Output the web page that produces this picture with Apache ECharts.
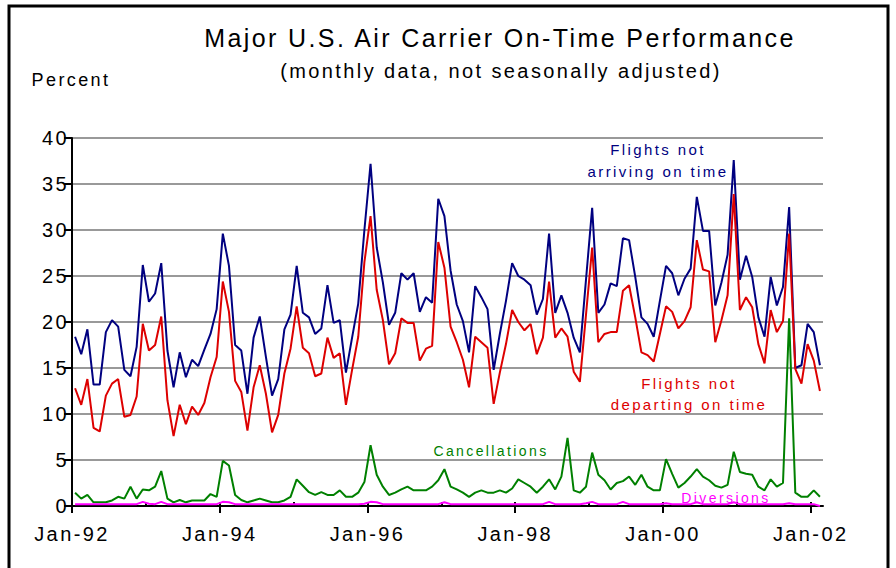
<!DOCTYPE html>
<html>
<head>
<meta charset="utf-8">
<script src="https://cdn.jsdelivr.net/npm/echarts@6/dist/echarts.min.js"></script>
<style>
  html, body { margin: 0; padding: 0; background: #fff; }
  #chart { width: 896px; height: 568px; }
  #chart text { letter-spacing: 2.4px; }
</style>
</head>
<body>
<div id="chart"></div>
<script>
// monthly values, Jan-92 through Feb-02 (122 months)
const lateArrivals = [
  18.4, 16.5, 19.2, 13.2, 13.2, 18.9, 20.2, 19.5, 14.8, 14.1, 17.3, 26.2,
  22.2, 23.1, 26.4, 16.9, 12.9, 16.7, 14.0, 15.9, 15.2, 17.0, 18.7, 21.4,
  29.6, 26.1, 17.5, 16.9, 12.2, 18.3, 20.6, 16.2, 12.0, 13.8, 19.2, 20.8,
  26.1, 21.0, 20.5, 18.7, 19.3, 24.0, 19.9, 20.2, 14.5, 18.3, 22.0, 30.0,
  37.2, 28.1, 24.3, 19.7, 21.0, 25.3, 24.6, 25.3, 21.1, 22.7, 22.1, 33.4,
  31.5, 25.6, 21.9, 20.1, 16.7, 23.9, 22.7, 21.4, 14.8, 18.7, 22.3, 26.4,
  25.0, 24.6, 24.0, 20.8, 22.5, 29.6, 21.0, 22.9, 21.0, 18.3, 16.7, 24.6,
  32.4, 21.0, 21.9, 24.2, 23.9, 29.1, 28.9, 24.9, 20.5, 19.8, 18.4, 22.3,
  26.1, 25.3, 22.9, 24.7, 25.8, 33.6, 29.9, 29.9, 21.8, 24.3, 27.3, 37.6,
  24.6, 27.2, 24.9, 20.5, 18.4, 24.9, 21.8, 23.8, 32.5, 15.0, 15.3, 19.8,
  18.9, 15.3
]
const lateDepartures = [
  12.8, 11.0, 13.8, 8.5, 8.1, 12.0, 13.3, 13.8, 9.7, 9.9, 11.9, 19.8,
  16.9, 17.5, 20.6, 11.5, 7.6, 11.0, 8.9, 10.8, 9.9, 11.2, 14.0, 16.2,
  24.4, 21.1, 13.6, 12.4, 8.2, 12.9, 15.3, 12.2, 8.0, 9.9, 14.4, 17.1,
  21.7, 17.2, 16.6, 14.1, 14.4, 18.3, 16.1, 16.6, 11.0, 14.8, 18.4, 26.5,
  31.5, 23.5, 20.2, 15.4, 16.6, 20.4, 19.9, 19.9, 15.8, 17.1, 17.4, 28.7,
  25.9, 19.5, 17.8, 15.9, 12.9, 18.4, 17.8, 17.2, 11.1, 14.5, 17.6, 21.3,
  20.0, 19.1, 19.8, 16.5, 18.3, 24.4, 18.3, 19.3, 18.4, 14.6, 13.5, 20.8,
  28.1, 17.8, 18.7, 18.9, 18.9, 23.4, 24.0, 20.5, 16.7, 16.4, 15.7, 18.7,
  21.7, 21.1, 19.3, 20.1, 21.6, 28.9, 25.7, 25.5, 17.8, 20.2, 22.9, 33.9,
  21.3, 22.7, 21.6, 17.6, 15.5, 21.3, 18.9, 20.1, 29.6, 14.9, 13.3, 17.6,
  15.8, 12.5
]
const cancellations = [
  1.45, 0.8, 1.2, 0.4, 0.4, 0.4, 0.6, 1.0, 0.8, 2.1, 0.8, 1.8,
  1.7, 2.1, 3.8, 0.8, 0.4, 0.65, 0.4, 0.6, 0.6, 0.6, 1.3, 1.0,
  4.9, 4.4, 1.2, 0.65, 0.4, 0.6, 0.8, 0.6, 0.4, 0.4, 0.6, 1.0,
  2.9, 2.2, 1.5, 1.2, 1.5, 1.2, 1.2, 1.7, 1.0, 1.0, 1.45, 2.6,
  6.6, 3.4, 2.1, 1.2, 1.45, 1.8, 2.1, 1.7, 1.7, 1.7, 2.1, 2.8,
  4.0, 2.1, 1.8, 1.45, 1.0, 1.45, 1.7, 1.45, 1.45, 1.7, 1.45, 1.9,
  2.9, 2.5, 2.1, 1.45, 2.1, 2.9, 1.8, 3.2, 7.4, 1.7, 1.45, 2.1,
  5.8, 3.4, 2.8, 1.8, 2.5, 2.7, 3.2, 2.3, 3.4, 2.1, 1.7, 1.7,
  5.1, 3.5, 2.0, 2.5, 3.2, 4.0, 3.2, 2.8, 2.2, 2.0, 2.3, 5.9,
  3.7, 3.5, 3.4, 2.1, 1.7, 2.9, 2.1, 2.5, 20.4, 1.45, 1.0, 1.0,
  1.7, 1.0
]
const diversions = [
  0.2, 0.2, 0.2, 0.2, 0.2, 0.2, 0.2, 0.2, 0.2, 0.2, 0.2, 0.45,
  0.25, 0.2, 0.45, 0.2, 0.2, 0.2, 0.2, 0.2, 0.2, 0.2, 0.2, 0.2,
  0.45, 0.4, 0.2, 0.2, 0.2, 0.2, 0.2, 0.2, 0.2, 0.2, 0.2, 0.2,
  0.2, 0.2, 0.2, 0.2, 0.2, 0.2, 0.2, 0.2, 0.2, 0.2, 0.2, 0.25,
  0.45, 0.4, 0.2, 0.2, 0.2, 0.2, 0.2, 0.2, 0.2, 0.2, 0.2, 0.2,
  0.4, 0.2, 0.2, 0.2, 0.2, 0.2, 0.2, 0.2, 0.2, 0.2, 0.2, 0.2,
  0.2, 0.2, 0.2, 0.2, 0.2, 0.45, 0.2, 0.2, 0.2, 0.2, 0.2, 0.3,
  0.45, 0.2, 0.2, 0.2, 0.2, 0.45, 0.2, 0.2, 0.2, 0.2, 0.2, 0.2,
  0.3, 0.2, 0.2, 0.2, 0.2, 0.4, 0.2, 0.2, 0.2, 0.2, 0.2, 0.4,
  0.2, 0.2, 0.2, 0.2, 0.2, 0.2, 0.2, 0.2, 0.3, 0.2, 0.2, 0.2,
  0.2, 0.0
]

// x ticks, counted in months from Jan-92
const labelTicks = [0, 24, 48, 72, 96, 120]
const tickLabels = ['Jan-92', 'Jan-94', 'Jan-96', 'Jan-98', 'Jan-00', 'Jan-02']
const yearTicks = [0, 12, 24, 36, 48, 60, 72, 84, 96, 108, 120]
const monthCount = lateArrivals.length

const FONT = "'Liberation Sans', Arial, sans-serif"

const chart = echarts.init(document.getElementById('chart'), null, { renderer: 'svg' })

// each month sits in the middle of its own slot
const toPoints = (arr) => arr.map((v, i) => [i + 0.5, v])

const lineSeries = (name, values, color) => ({
  name,
  type: 'line',
  data: toPoints(values),
  symbol: 'none',
  silent: true,
  lineStyle: { width: 2, color },
  z: 3,
})

const option = {
  animation: false,
  grid: { left: 72, right: 73, top: 138, bottom: 62 },
  xAxis: [
    {
      type: 'value',
      min: 0,
      max: monthCount,
      position: 'bottom',
      splitLine: { show: false },
      axisLine: { lineStyle: { color: '#000', width: 2 } },
      axisTick: { customValues: labelTicks, length: 7, lineStyle: { color: '#000', width: 2 } },
      axisLabel: {
        customValues: labelTicks,
        formatter: (v) => tickLabels[labelTicks.indexOf(v)] || '',
        color: '#000',
        fontFamily: FONT,
        fontSize: 20,
        margin: 18,
      },
    },
    {
      type: 'value',
      min: 0,
      max: monthCount,
      position: 'bottom',
      splitLine: { show: false },
      axisLine: { show: false },
      axisTick: { inside: true, customValues: yearTicks, length: 4, lineStyle: { color: '#000', width: 2 } },
      axisLabel: { show: false },
    },
  ],
  yAxis: {
    type: 'value',
    min: 0,
    max: 40,
    interval: 5,
    axisLine: { show: true, lineStyle: { color: '#000', width: 2 } },
    axisTick: { show: true, length: 8, lineStyle: { color: '#000', width: 2 } },
    splitLine: { lineStyle: { color: '#999', width: 2 } },
    axisLabel: { color: '#000', fontFamily: FONT, fontSize: 20, margin: 3 },
  },
  series: [
    lineSeries('Flights not arriving on time', lateArrivals, '#000080'),
    lineSeries('Flights not departing on time', lateDepartures, '#dd0000'),
    lineSeries('Cancellations', cancellations, '#008000'),
    lineSeries('Diversions', diversions, '#ff00ff'),
  ],
  graphic: [
    {
      type: 'rect',
      silent: true,
      shape: { x: 9, y: 6, width: 879, height: 600 },
      style: { fill: 'none', stroke: '#000', lineWidth: 3 },
    },
    {
      type: 'text', x: 500, y: 38,
      style: { text: 'Major U.S. Air Carrier On-Time Performance', fill: '#000', font: `25px ${FONT}`, align: 'center', verticalAlign: 'middle' },
    },
    {
      type: 'text', x: 501, y: 71,
      style: { text: '(monthly data, not seasonally adjusted)', fill: '#000', font: `20px ${FONT}`, align: 'center', verticalAlign: 'middle' },
    },
    {
      type: 'text', x: 71, y: 80,
      style: { text: 'Percent', fill: '#000', font: `18px ${FONT}`, align: 'center', verticalAlign: 'middle' },
    },
    {
      type: 'text', x: 658, y: 160,
      style: { text: 'Flights not\narriving on time', fill: '#000080', font: `15px ${FONT}`, lineHeight: 22, align: 'center', verticalAlign: 'middle' },
    },
    {
      type: 'text', x: 689, y: 394,
      style: { text: 'Flights not\ndeparting on time', fill: '#dd0000', font: `15px ${FONT}`, lineHeight: 21, align: 'center', verticalAlign: 'middle' },
    },
    {
      type: 'text', x: 491, y: 451,
      style: { text: 'Cancellations', fill: '#008000', font: `14px ${FONT}`, align: 'center', verticalAlign: 'middle' },
    },
    {
      type: 'text', x: 726, y: 498,
      style: { text: 'Diversions', fill: '#ff00ff', font: `14px ${FONT}`, align: 'center', verticalAlign: 'middle' },
    },
  ],
}

chart.setOption(option)

window.addEventListener('resize', () => chart.resize())
</script>
</body>
</html>
